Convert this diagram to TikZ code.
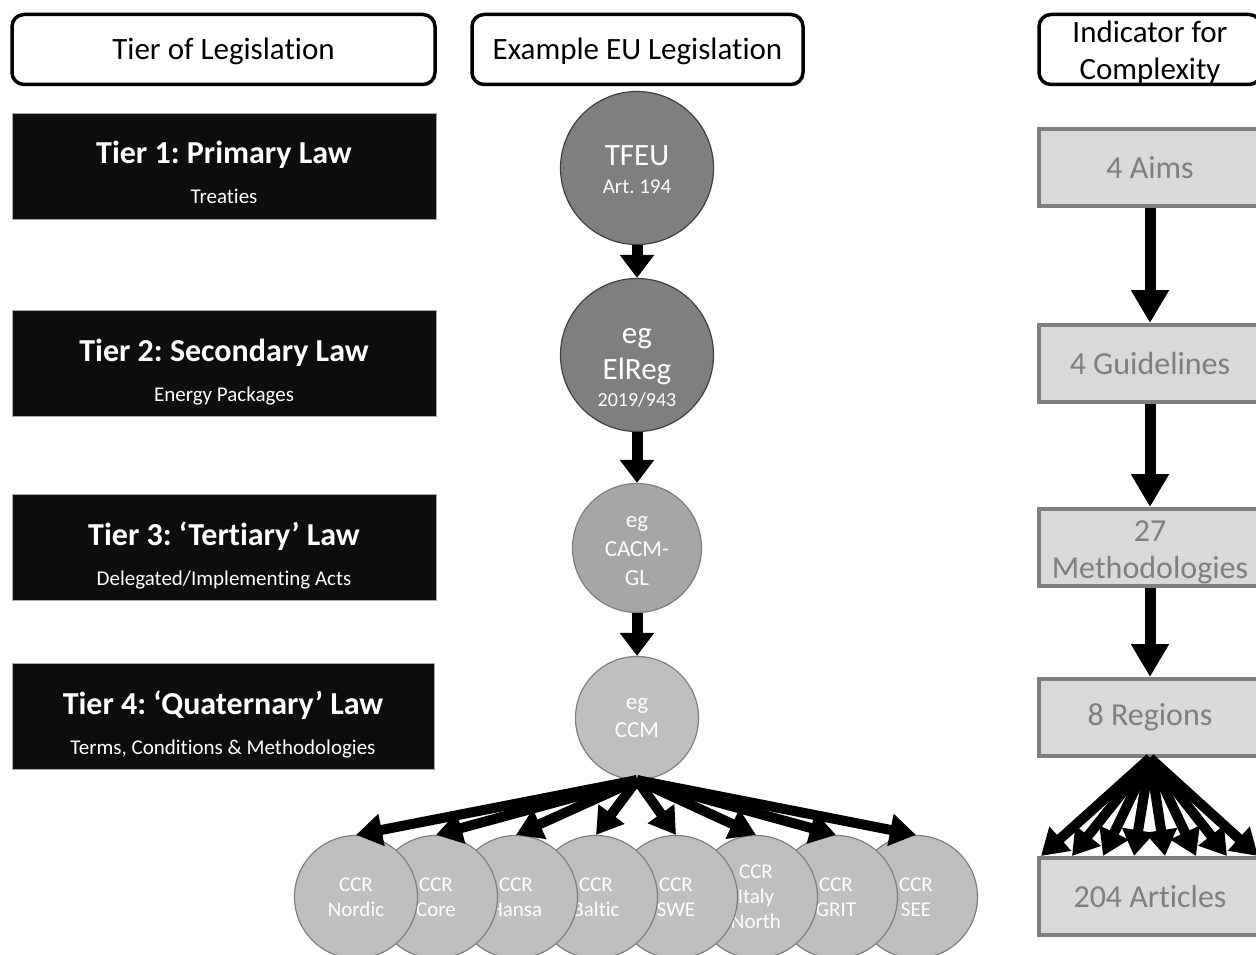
\documentclass[tikz,border=0pt]{standalone}
\usepackage{fontspec}
\setmainfont{Carlito}[Ligatures=NoCommon]
\frenchspacing
\usetikzlibrary{arrows.meta}

\definecolor{tierblack}{HTML}{0D0D0D}
\definecolor{lawdark}{HTML}{7F7F7F}
\definecolor{lawmid}{HTML}{A6A6A6}
\definecolor{lawlight}{HTML}{BFBFBF}
\definecolor{rimdark}{HTML}{404040}
\definecolor{rimgray}{HTML}{7F7F7F}
\definecolor{boxgray}{HTML}{D9D9D9}

\begin{document}
\begin{tikzpicture}
  [x=1pt,y=-1pt,every node/.style={inner sep=0pt},
   headbox/.style={draw,line width=3.5pt,rounded corners=12pt,minimum height=70pt,
     font=\fontsize{31}{37}\selectfont,align=center},
   tierbox/.style={fill=tierblack,draw=gray!70,line width=0.8pt,minimum width=424pt,minimum height=106pt},
   tiertitle/.style={anchor=base,text=white,font=\fontsize{32}{38}\selectfont\bfseries},
   tiersub/.style={anchor=base,text=white,font=\fontsize{21}{25}\selectfont},
   lawbig/.style={circle,fill=lawdark,draw=rimdark,line width=1.2pt,minimum size=153pt,
     text=white,align=center,font=\fontsize{31}{36}\selectfont},
   lawtext/.style={text=white,align=center,font=\fontsize{31}{36}\selectfont},
   lawsmall/.style={circle,fill=#1,draw=rimgray,line width=1.2pt,text=white,align=center},
   ccrnode/.style={circle,fill=lawlight,draw=rimgray,line width=1.2pt,minimum size=123pt,
     text=white,align=center,font=\fontsize{21}{25}\selectfont},
   countbox/.style={fill=boxgray,draw=rimgray,line width=4pt,minimum width=222pt,minimum height=77pt,
     text=rimgray,align=center,font=\fontsize{32}{37}\selectfont},
   downarrow/.style={line width=11pt,-{Triangle[length=23pt,width=33pt]}},
   longarrow/.style={line width=11pt,-{Triangle[length=33pt,width=36pt]}},
   fanarrow/.style={line width=10pt,-{Triangle[length=26pt,width=31pt]}}]
  \useasboundingbox (0,0) rectangle (1256,955);
  \clip (0,0) rectangle (1256,955);

  % column heads
  \node[headbox,minimum width=423pt,text height=23pt,text depth=2pt] (tierhead) at (223.5,49.5) {Tier of Legislation};
  \node[headbox,minimum width=331pt,text height=23pt,text depth=2pt] (exhead) at (637.5,49.5) {Example EU Legislation};
  \node[headbox,minimum width=222pt] (indhead) at (1150,49.5) {};
  \node[align=center,font=\fontsize{31}{37}\selectfont] (indtext) at (1150,53) {Indicator for\\Complexity};

  % tiers
  \node[tierbox] (tier1) at (224.5,166.5) {};
  \node[tierbox] (tier2) at (224.5,363.5) {};
  \node[tierbox] (tier3) at (224.5,547.5) {};
  \node[tierbox,minimum width=422pt] (tier4) at (223.5,716.5) {};
  \node[tiertitle] (t1title) at (224,164) {Tier 1: Primary Law};
  \node[tiersub] (t1sub) at (224,204) {Treaties};
  \node[tiertitle] (t2title) at (224,361) {Tier 2: Secondary Law};
  \node[tiersub] (t2sub) at (224,401) {Energy Packages};
  \node[tiertitle] (t3title) at (224,545) {Tier 3: ‘Tertiary’ Law};
  \node[tiersub] (t3sub) at (224,585) {Delegated/Implementing Acts};
  \node[tiertitle] (t4title) at (223,714) {Tier 4: ‘Quaternary’ Law};
  \node[tiersub] (t4sub) at (223,754) {Terms, Conditions \& Methodologies};

  % example legislation
  \node[lawbig] (tfeu) at (637,168) {};
  \node[lawtext] (tfeutext) at (637,170) {TFEU\\[-8pt]{\fontsize{21}{25}\selectfont Art. 194}};
  \node[lawbig] (elreg) at (637,355) {};
  \node[lawtext] (elregtext) at (637,368) {eg\\ElReg\\[-9pt]{\fontsize{20}{24}\selectfont 2019/943}};
  \node[lawsmall=lawmid,minimum size=129pt,font=\fontsize{23}{29}\selectfont] (cacm) at (637,548) {};
  \node[lawtext,font=\fontsize{23}{29}\selectfont] (cacmtext) at (637,551) {eg\\CACM-\\GL};
  \node[lawsmall=lawlight,minimum size=123pt,font=\fontsize{23}{28}\selectfont] (ccm) at (637,718) {eg\\CCM};

  % regions, right one first
  \foreach \name/\px/\txt in {see/916/{CCR\\SEE},grit/836/{CCR\\GRIT},italy/756/{CCR\\Italy\\North},
      swe/676/{CCR\\SWE},baltic/596/{CCR\\Baltic},hansa/516/{CCR\\Hansa},core/436/{CCR\\Core},
      nordic/356/{CCR\\Nordic}}
    \node[ccrnode] (\name) at (\px,897) {\txt};

  \draw[downarrow] (tfeu) -- (elreg);
  \draw[downarrow] (elreg) -- (cacm);
  \draw[downarrow] (cacm) -- (ccm);
  \foreach \to in {nordic,core,hansa,baltic,swe,italy,grit,see}
    \draw[fanarrow] (ccm.south) -- (\to.north);

  % complexity
  \node[countbox] (aims) at (1150,167.5) {4 Aims};
  \node[countbox] (guide) at (1150,363.5) {4 Guidelines};
  \node[countbox] (method) at (1150,547.5) {};
  \node[align=center,text=rimgray,font=\fontsize{32}{37}\selectfont] (methodtext) at (1150,552) {27\\Methodologies};
  \node[countbox] (regions) at (1150,717.5) {8 Regions};
  \node[countbox] (articles) at (1150,896.5) {204 Articles};

  \draw[longarrow] (aims) -- (guide);
  \draw[longarrow] (guide) -- (method);
  \draw[longarrow] (method) -- (regions);
  \foreach \i in {0,...,7}{
    \coordinate (art\i) at (1041+31*\i,856);
    \draw[fanarrow] (regions.south) -- (art\i);
  }
\end{tikzpicture}
\end{document}
